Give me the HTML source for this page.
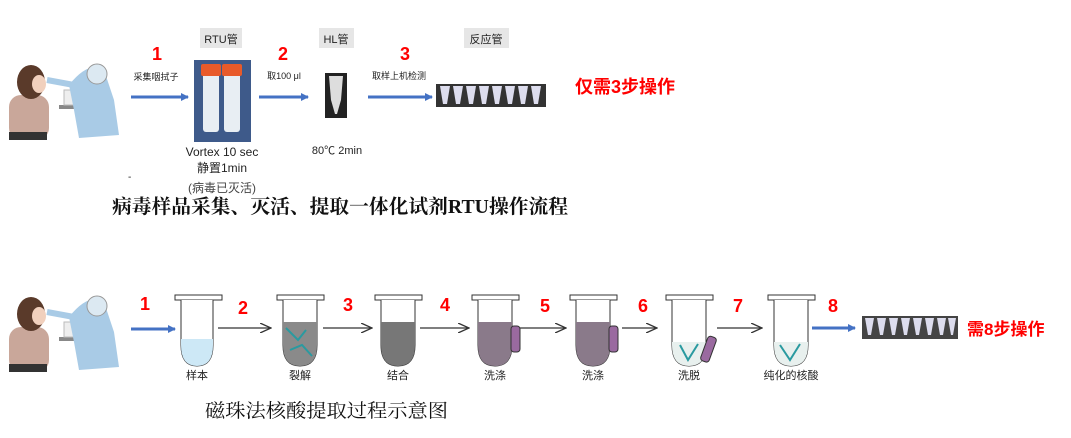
<!DOCTYPE html>
<html><head><meta charset="utf-8"><style>
body{margin:0;background:#fff;width:1071px;height:433px;overflow:hidden}
svg text{font-family:"Liberation Sans","Noto Sans CJK SC",sans-serif}
</style></head><body>
<svg width="1071" height="433" viewBox="0 0 1071 433" xmlns="http://www.w3.org/2000/svg">
<defs>
<marker id="ab" markerWidth="8" markerHeight="8" refX="7" refY="4" orient="auto" markerUnits="userSpaceOnUse"><path d="M0,0 L8,4 L0,8 z" fill="#4472c4"/></marker>
<marker id="ak" markerWidth="12" markerHeight="10" refX="11" refY="5" orient="auto" markerUnits="userSpaceOnUse"><path d="M0,0 L11,5 L0,10" fill="none" stroke="#333" stroke-width="1.3"/></marker>
<g id="person">
<rect x="0" y="35" width="40" height="45" rx="12" fill="#c9a79a"/>
<ellipse cx="22" cy="22" rx="14" ry="17" fill="#5a3a2a"/>
<ellipse cx="30" cy="24" rx="7" ry="9" fill="#f1d0bd"/>
<rect x="50" y="45" width="55" height="4" fill="#888"/>
<rect x="55" y="30" width="25" height="15" fill="#eee" stroke="#bbb"/>
<path d="M60,25 Q80,0 95,10 L105,40 L110,75 L70,78 L65,50 Z" fill="#a9cbe6"/>
<circle cx="88" cy="14" r="10" fill="#dce9f2" stroke="#999"/>
<path d="M65,25 L38,20" stroke="#a9cbe6" stroke-width="6"/>
<rect x="0" y="72" width="38" height="8" fill="#333"/>
</g>
</defs>

<!-- top -->
<use href="#person" x="9" y="60"/>
<text x="157" y="60" fill="#f00" font-size="18" font-weight="bold" text-anchor="middle">1</text>
<text x="156" y="80" font-size="9" text-anchor="middle" fill="#222">采集咽拭子</text>
<line x1="131" y1="97" x2="188" y2="97" stroke="#4472c4" stroke-width="3" marker-end="url(#ab)"/>
<rect x="200" y="28" width="42" height="20" fill="#e6e6e6"/>
<text x="221" y="43" font-size="11" text-anchor="middle" fill="#222">RTU管</text>
<rect x="194" y="60" width="57" height="82" fill="#3e5a8a"/>
<rect x="203" y="72" width="16" height="60" rx="3" fill="#e8eef3"/>
<rect x="224" y="72" width="16" height="60" rx="3" fill="#e8eef3"/>
<rect x="201" y="64" width="20" height="12" rx="2" fill="#e85a2a"/>
<rect x="222" y="64" width="20" height="12" rx="2" fill="#e85a2a"/>
<text x="222" y="156" font-size="12" text-anchor="middle" fill="#222">Vortex 10 sec</text>
<text x="222" y="172" font-size="12" text-anchor="middle" fill="#222">静置1min</text>
<text x="222" y="192" font-size="12" text-anchor="middle" fill="#444">(病毒已灭活)</text>
<text x="128" y="180" font-size="10" fill="#222">-</text>
<text x="283" y="60" fill="#f00" font-size="18" font-weight="bold" text-anchor="middle">2</text>
<text x="284" y="79" font-size="9" text-anchor="middle" fill="#222">取100 μl</text>
<line x1="259" y1="97" x2="308" y2="97" stroke="#4472c4" stroke-width="3" marker-end="url(#ab)"/>
<rect x="319" y="28" width="35" height="20" fill="#e6e6e6"/>
<text x="336" y="43" font-size="11" text-anchor="middle" fill="#222">HL管</text>
<rect x="325" y="73" width="22" height="45" fill="#222"/>
<path d="M329,76 L343,76 L341,100 L337,114 L335,114 L331,100 Z" fill="#ddd"/>
<text x="337" y="154" font-size="11" text-anchor="middle" fill="#222">80℃ 2min</text>
<text x="405" y="60" fill="#f00" font-size="18" font-weight="bold" text-anchor="middle">3</text>
<text x="399" y="79" font-size="9" text-anchor="middle" fill="#222">取样上机检测</text>
<line x1="368" y1="97" x2="432" y2="97" stroke="#4472c4" stroke-width="3" marker-end="url(#ab)"/>
<rect x="464" y="28" width="45" height="20" fill="#e6e6e6"/>
<text x="486" y="43" font-size="11" text-anchor="middle" fill="#222">反应管</text>
<rect x="436" y="84" width="110" height="23" fill="#333"/>
<g fill="#dde">
<path d="M440,86h10l-3,18h-4z"/><path d="M453,86h10l-3,18h-4z"/><path d="M466,86h10l-3,18h-4z"/><path d="M479,86h10l-3,18h-4z"/><path d="M492,86h10l-3,18h-4z"/><path d="M505,86h10l-3,18h-4z"/><path d="M518,86h10l-3,18h-4z"/><path d="M531,86h10l-3,18h-4z"/>
</g>
<text x="575" y="93" fill="#f00" font-size="18" font-weight="bold">仅需3步操作</text>
<text x="112" y="213" font-size="19.5" font-weight="bold" fill="#111" textLength="456" lengthAdjust="spacingAndGlyphs" style="font-family:'Liberation Serif','Noto Serif CJK SC',serif">病毒样品采集、灭活、提取一体化试剂RTU操作流程</text>

<!-- bottom -->
<use href="#person" x="9" y="292"/>
<text x="145" y="310" fill="#f00" font-size="18" font-weight="bold" text-anchor="middle">1</text>
<line x1="131" y1="329" x2="175" y2="329" stroke="#4472c4" stroke-width="3" marker-end="url(#ab)"/>

<g>
<rect x="175" y="295" width="47" height="5" fill="#fff" stroke="#333"/>
<path d="M181,300 V345 Q181,366 197,366 Q213,366 213,345 V300" fill="#fff" stroke="#333"/>
<path d="M181,339 H213 V345 Q213,366 197,366 Q181,366 181,345 Z" fill="#cde8f6"/>
</g>
<g fill="#888" stroke="#333">
<rect x="277" y="295" width="47" height="5" fill="#fff"/>
<path d="M283,300 V345 Q283,366 300,366 Q317,366 317,345 V300" fill="#fff"/>
<path d="M283,322 H317 V345 Q317,366 300,366 Q283,366 283,345 Z" fill="#8a8a8a" stroke="none"/>
<path d="M286,328 L298,340 L306,330 M290,350 L302,345 L312,356" stroke="#2a9aa0" stroke-width="2" fill="none"/>
<rect x="375" y="295" width="47" height="5" fill="#fff"/>
<path d="M381,300 V345 Q381,366 398,366 Q415,366 415,345 V300" fill="#fff"/>
<path d="M381,322 H415 V345 Q415,366 398,366 Q381,366 381,345 Z" fill="#777" stroke="none"/>
<rect x="472" y="295" width="47" height="5" fill="#fff"/>
<path d="M478,300 V345 Q478,366 495,366 Q512,366 512,345 V300" fill="#fff"/>
<path d="M478,322 H512 V345 Q512,366 495,366 Q478,366 478,345 Z" fill="#8a7a8a" stroke="none"/>
<rect x="511" y="326" width="9" height="26" rx="3" fill="#9a6aa0"/>
<rect x="570" y="295" width="47" height="5" fill="#fff"/>
<path d="M576,300 V345 Q576,366 593,366 Q610,366 610,345 V300" fill="#fff"/>
<path d="M576,322 H610 V345 Q610,366 593,366 Q576,366 576,345 Z" fill="#8a7a8a" stroke="none"/>
<rect x="609" y="326" width="9" height="26" rx="3" fill="#9a6aa0"/>
<rect x="666" y="295" width="47" height="5" fill="#fff"/>
<path d="M672,300 V345 Q672,366 689,366 Q706,366 706,345 V300" fill="#fff"/>
<path d="M672,342 H706 V345 Q706,366 689,366 Q672,366 672,345 Z" fill="#e8f0ee" stroke="none"/>
<path d="M680,345 L688,360 L698,344" stroke="#2a9aa0" stroke-width="2" fill="none"/>
<rect x="704" y="336" width="9" height="26" rx="3" fill="#9a6aa0" transform="rotate(20 708 349)"/>
<rect x="768" y="295" width="47" height="5" fill="#fff"/>
<path d="M774,300 V345 Q774,366 791,366 Q808,366 808,345 V300" fill="#fff"/>
<path d="M774,342 H808 V345 Q808,366 791,366 Q774,366 774,345 Z" fill="#e8f0ee" stroke="none"/>
<path d="M780,345 L790,360 L800,344" stroke="#2a9aa0" stroke-width="2" fill="none"/>
</g>
<g font-size="11" fill="#222" text-anchor="middle" style="font-family:'Liberation Serif','Noto Serif CJK SC',serif">
<text x="197" y="379">样本</text><text x="300" y="379">裂解</text><text x="398" y="379">结合</text><text x="495" y="379">洗涤</text><text x="593" y="379">洗涤</text><text x="689" y="379">洗脱</text><text x="791" y="379">纯化的核酸</text>
</g>
<g fill="#f00" font-size="18" font-weight="bold" text-anchor="middle">
<text x="243" y="314">2</text><text x="348" y="311">3</text><text x="445" y="311">4</text><text x="545" y="312">5</text><text x="643" y="312">6</text><text x="738" y="312">7</text><text x="833" y="312">8</text>
</g>
<g stroke="#333" stroke-width="1.3">
<line x1="218" y1="328" x2="271" y2="328" marker-end="url(#ak)"/>
<line x1="323" y1="328" x2="372" y2="328" marker-end="url(#ak)"/>
<line x1="420" y1="328" x2="469" y2="328" marker-end="url(#ak)"/>
<line x1="520" y1="328" x2="566" y2="328" marker-end="url(#ak)"/>
<line x1="622" y1="328" x2="657" y2="328" marker-end="url(#ak)"/>
<line x1="717" y1="328" x2="762" y2="328" marker-end="url(#ak)"/>
</g>
<line x1="812" y1="328" x2="855" y2="328" stroke="#4472c4" stroke-width="3" marker-end="url(#ab)"/>
<rect x="862" y="316" width="96" height="23" fill="#444"/>
<g fill="#dde">
<path d="M865,318h9l-3,17h-3z"/><path d="M877,318h9l-3,17h-3z"/><path d="M889,318h9l-3,17h-3z"/><path d="M901,318h9l-3,17h-3z"/><path d="M913,318h9l-3,17h-3z"/><path d="M925,318h9l-3,17h-3z"/><path d="M937,318h9l-3,17h-3z"/><path d="M948,318h8l-3,17h-2z"/>
</g>
<text x="967" y="335" fill="#f00" font-size="17" font-weight="bold">需8步操作</text>
<text x="205" y="417" font-size="19" fill="#111" textLength="243" lengthAdjust="spacingAndGlyphs" style="font-family:'Liberation Serif','Noto Serif CJK SC',serif">磁珠法核酸提取过程示意图</text>
</svg>
</body></html>
